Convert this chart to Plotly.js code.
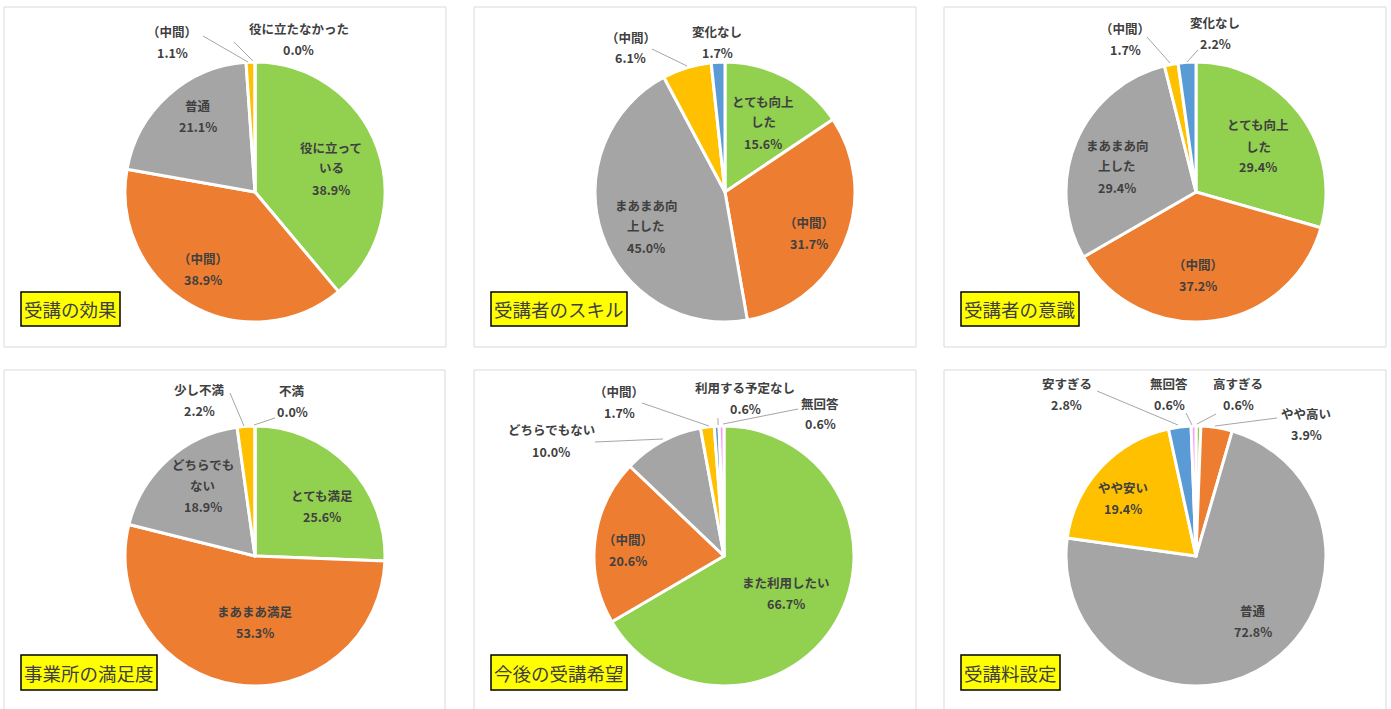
<!DOCTYPE html>
<html><head><meta charset="utf-8">
<script src="https://cdn.plot.ly/plotly-3.0.1.min.js"></script>
<style>html,body{margin:0;padding:0;background:#fff}#chart{width:1391px;height:709px}</style>
</head><body><div id="chart"></div>
<script>
// ---------- data ----------
const titles = ['受講の効果','受講者のスキル','受講者の意識','事業所の満足度','今後の受講希望','受講料設定'];

const effectCats = ['役に立っている','（中間）','普通','（中間）','役に立たなかった'];
const effectVals = [38.9, 38.9, 21.1, 1.1, 0.0];

const skillCats = ['とても向上した','（中間）','まあまあ向上した','（中間）','変化なし'];
const skillVals = [15.6, 31.7, 45.0, 6.1, 1.7];

const awareCats = ['とても向上した','（中間）','まあまあ向上した','（中間）','変化なし'];
const awareVals = [29.4, 37.2, 29.4, 1.7, 2.2];

const satisCats = ['とても満足','まあまあ満足','どちらでもない','少し不満','不満'];
const satisVals = [25.6, 53.3, 18.9, 2.2, 0.0];

const wishCats = ['また利用したい','（中間）','どちらでもない','（中間）','利用する予定なし','無回答'];
const wishVals = [66.7, 20.6, 10.0, 1.7, 0.6, 0.6];

const feeCats = ['高すぎる','やや高い','普通','やや安い','安すぎる','無回答'];
const feeVals = [0.6, 3.9, 72.8, 19.4, 2.8, 0.6];

// ---------- style / layout ----------
const W = 1391, H = 709, R = 130, LH = 21;
const GREEN='#92D050', ORANGE='#ED7D31', GRAY='#A5A5A5', YELLOW='#FFC000', BLUE='#5B9BD5', PINK='#FF99FF';
const TXT = '#404040';
const FONT = '"Noto Sans CJK JP", "Noto Sans", sans-serif';

const panels = [
  {cats:effectCats, vals:effectVals, center:[255,192], box:[4,7,446,347], tbox:[21,292,120,326],
   colors:[GREEN,ORANGE,GRAY,YELLOW,BLUE],
   labels:[{p:[331,168],w:5},{p:[203,269]},{p:[198,116.5]},{p:[172,41.5],l:[203,36,248,62]},{p:[298.5,39],l:[234,42,253,61]}]},
  {cats:skillCats, vals:skillVals, center:[725,192], box:[474,7,916,347], tbox:[491,292,627,326],
   colors:[GREEN,ORANGE,GRAY,YELLOW,BLUE],
   labels:[{p:[763,122],w:5},{p:[809,233]},{p:[646,226],w:5},{p:[630.5,47.5],l:[652,49,687,66]},{p:[717,42]}]},
  {cats:awareCats, vals:awareVals, center:[1196,192], box:[944,7,1386,347], tbox:[961,292,1079,326],
   colors:[GREEN,ORANGE,GRAY,YELLOW,BLUE],
   labels:[{p:[1258,146],w:5},{p:[1198,275]},{p:[1117,166],w:5},{p:[1125,38.5],l:[1147,37,1170,63]},{p:[1215,33],l:[1198,50,1187,62]}]},
  {cats:satisCats, vals:satisVals, center:[255,556], box:[4,370,445,720], tbox:[21,655,157,690],
   colors:[GREEN,ORANGE,GRAY,YELLOW,BLUE],
   labels:[{p:[322,505.5]},{p:[255,622]},{p:[203,485],w:5},{p:[199,399.5],l:[230,393,244,426]},{p:[292,401],l:[275,418,254,425]}]},
  {cats:wishCats, vals:wishVals, center:[724,556], box:[474,370,916,720], tbox:[491,655,627,690],
   colors:[GREEN,ORANGE,GRAY,YELLOW,BLUE,PINK],
   labels:[{p:[786,593]},{p:[628,550]},{p:[551,440.5],l:[595,442,663,439]},{p:[619,402],l:[642,403,709,426]},{p:[745,397.5],l:[718,418,718,425]},{p:[820,413.5],l:[798,409,723,424]}]},
  {cats:feeCats, vals:feeVals, center:[1196,556], box:[944,370,1386,720], tbox:[961,655,1060,690],
   colors:[GREEN,ORANGE,GRAY,YELLOW,BLUE,PINK],
   labels:[{p:[1238,394],l:[1216,414,1197,424]},{p:[1306,423.5],l:[1277,418,1215,426]},{p:[1253,621]},{p:[1123,498]},{p:[1066.5,394],l:[1097,391,1178,425]},{p:[1169,394],l:[1186,413,1192,425]}]}
];

const px = x => x / W;
const py = y => 1 - y / H;
function wrap(s, n){ if(!n) return [s]; const out=[]; for(let i=0;i<s.length;i+=n) out.push(s.slice(i,i+n)); return out; }

const data = [], shapes = [], annotations = [];
panels.forEach((pn, k) => {
  const [cx, cy] = pn.center;
  shapes.push({type:'rect', xref:'paper', yref:'paper', x0:px(pn.box[0]), x1:px(pn.box[2]), y0:py(pn.box[3]), y1:py(pn.box[1]),
    line:{color:'#D9D9D9', width:1}, fillcolor:'rgba(0,0,0,0)', layer:'below'});
  data.push({
    type:'pie', sort:false, direction:'clockwise', rotation:0,
    labels: pn.cats.map((c,i)=> i + '_' + c), values: pn.vals,
    marker:{colors: pn.colors, line:{color:'#FFFFFF', width:3}},
    textinfo:'none', hoverinfo:'skip', showlegend:false,
    domain:{x:[px(cx-R), px(cx+R)], y:[py(cy+R), py(cy-R)]}
  });
  pn.cats.forEach((c, i) => {
    const lab = pn.labels[i];
    const lines = wrap(c, lab.w).concat([pn.vals[i].toFixed(1) + '%']);
    const n = lines.length;
    lines.forEach((t, j) => {
      annotations.push({xref:'paper', yref:'paper', x:px(lab.p[0]), y:py(lab.p[1] + (j-(n-1)/2)*LH),
        text:'<b>'+t+'</b>', showarrow:false, xanchor:'center', yanchor:'middle',
        font:{family:FONT, size:12.5, color:TXT}});
    });
    if (lab.l) {
      shapes.push({type:'line', xref:'paper', yref:'paper', x0:px(lab.l[0]), y0:py(lab.l[1]), x1:px(lab.l[2]), y1:py(lab.l[3]),
        line:{color:'#A6A6A6', width:1}});
    }
  });
  const tb = pn.tbox;
  shapes.push({type:'rect', xref:'paper', yref:'paper', x0:px(tb[0]), x1:px(tb[2]), y0:py(tb[3]), y1:py(tb[1]),
    line:{color:'#000000', width:1.5}, fillcolor:'#FFFF00', layer:'above'});
  annotations.push({xref:'paper', yref:'paper', x:px((tb[0]+tb[2])/2), y:py((tb[1]+tb[3])/2), text:titles[k],
    showarrow:false, xanchor:'center', yanchor:'middle', font:{family:FONT, size:18.5, color:TXT}});
});

Plotly.newPlot('chart', data, {
  width:W, height:H, margin:{l:0,r:0,t:0,b:0},
  paper_bgcolor:'#FFFFFF', plot_bgcolor:'#FFFFFF',
  shapes, annotations
}, {displayModeBar:false, staticPlot:true});
</script></body></html>
